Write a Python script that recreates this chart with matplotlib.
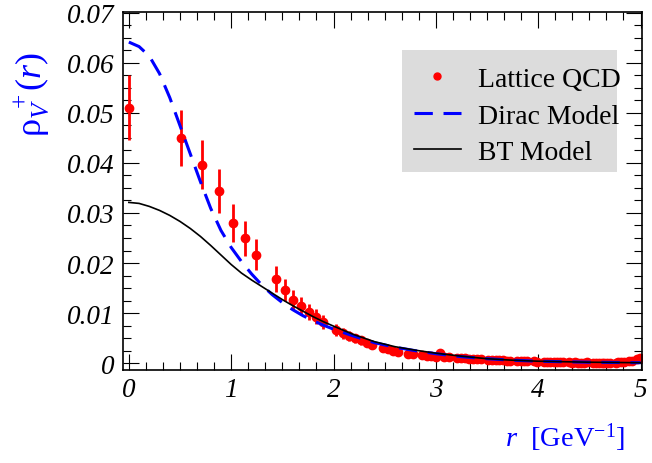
import matplotlib
matplotlib.use("Agg")
import matplotlib.pyplot as plt
from matplotlib.lines import Line2D
from matplotlib.patches import Rectangle
from matplotlib.ticker import MultipleLocator, FixedLocator

plt.rcParams['font.family'] = 'serif'
plt.rcParams['font.serif'] = ['Liberation Serif', 'DejaVu Serif']
plt.rcParams['mathtext.fontset'] = 'custom'
plt.rcParams['mathtext.rm'] = 'Liberation Serif'
plt.rcParams['mathtext.it'] = 'Liberation Serif:italic'

# lattice QCD points (r in GeV^-1)
r_lat = [0.000, 0.507, 0.717, 0.878, 1.014, 1.134, 1.242, 1.434, 1.521, 1.603,
         1.682, 1.756, 1.828, 1.897, 2.028, 2.090, 2.151, 2.210, 2.267, 2.323,
         2.378, 2.484, 2.535, 2.585, 2.634, 2.730, 2.777, 2.868, 2.913, 2.956,
         2.999, 3.042, 3.084, 3.125, 3.207, 3.246, 3.286, 3.325, 3.363, 3.401,
         3.439, 3.513, 3.549, 3.585, 3.621, 3.656, 3.691, 3.726, 3.794, 3.828,
         3.861, 3.894, 3.960, 3.992, 4.056, 4.088, 4.119, 4.150, 4.181, 4.211,
         4.242, 4.302, 4.332, 4.361, 4.391, 4.420, 4.449, 4.478, 4.535, 4.563,
         4.591, 4.619, 4.647, 4.674, 4.702, 4.756, 4.783, 4.810, 4.837, 4.889,
         4.916, 4.968, 4.993]
rho_lat = [0.0510, 0.0450, 0.0396, 0.0343, 0.0280, 0.0249, 0.0217, 0.0168, 0.0146, 0.0127,
           0.0115, 0.0103, 0.0093, 0.0083, 0.0067, 0.0060, 0.0055, 0.0050, 0.0046, 0.0041,
           0.0037, 0.0030, 0.0028, 0.0025, 0.0023, 0.0019, 0.0018, 0.0016, 0.0015, 0.0014,
           0.0013, 0.0021, 0.0013, 0.0012, 0.0011, 0.0010, 0.0010, 0.0009, 0.0009, 0.0008,
           0.0008, 0.0007, 0.0007, 0.0006, 0.0006, 0.0006, 0.0005, 0.0005, 0.0005, 0.0004,
           0.0005, 0.0004, 0.0004, 0.0003, 0.0003, 0.0003, 0.0002, 0.0003, 0.0002, 0.0002,
           0.0002, 0.0002, 0.0001, 0.0002, 0.0001, 0.0001, 0.0001, 0.0002, 0.0001, 0.0001,
           0.0000, 0.0001, 0.0001, 0.0000, 0.0001, 0.0001, 0.0002, 0.0002, 0.0003, 0.0004,
           0.0005, 0.0008, 0.0010]
err_lat = [0.0065, 0.0056, 0.0049, 0.0044, 0.0038, 0.0034, 0.0030, 0.0026, 0.0022, 0.0020,
           0.0018, 0.0016, 0.0015, 0.0014, 0.0012, 0.0011, 0.0010, 0.0009, 0.0009, 0.0008,
           0.0008, 0.0007, 0.0006, 0.0006, 0.0006, 0.0005, 0.0005, 0.0005, 0.0005, 0.0005,
           0.0004, 0.0004, 0.0004, 0.0004, 0.0004, 0.0004, 0.0004, 0.0004, 0.0004, 0.0004,
           0.0004, 0.0004, 0.0004, 0.0004, 0.0004, 0.0004, 0.0004, 0.0004, 0.0004, 0.0004,
           0.0004, 0.0004, 0.0004, 0.0004, 0.0003, 0.0003, 0.0003, 0.0003, 0.0003, 0.0003,
           0.0003, 0.0003, 0.0003, 0.0003, 0.0003, 0.0003, 0.0003, 0.0003, 0.0003, 0.0003,
           0.0003, 0.0003, 0.0003, 0.0003, 0.0003, 0.0003, 0.0003, 0.0003, 0.0003, 0.0003,
           0.0003, 0.0003, 0.0003]

# model curves
r_dirac = [0.0, 0.1, 0.2, 0.3, 0.4, 0.5, 0.6, 0.7, 0.8, 0.9, 1.0, 1.1, 1.2, 1.3, 1.4,
           1.5, 1.6, 1.7, 1.8, 1.9, 2.0, 2.2, 2.4, 2.6, 2.8, 3.0, 3.25, 3.5, 3.75, 4.0,
           4.5, 5.0]
rho_dirac = [0.0641, 0.0632, 0.0613, 0.0578, 0.0530, 0.0474, 0.0418, 0.0362, 0.0309,
             0.0265, 0.0231, 0.0203, 0.0178, 0.0156, 0.0137, 0.0121, 0.0107, 0.0095,
             0.0085, 0.0076, 0.0068, 0.0054, 0.0041, 0.0032, 0.0025, 0.0019, 0.0013,
             0.0009, 0.0006, 0.0004, 0.0002, 0.0001]

r_bt = [0.0, 0.1, 0.2, 0.3, 0.4, 0.5, 0.6, 0.7, 0.8, 0.9, 1.0, 1.1, 1.2, 1.3, 1.4,
        1.5, 1.6, 1.7, 1.8, 1.9, 2.0, 2.2, 2.4, 2.6, 2.8, 3.0, 3.25, 3.5, 3.75, 4.0,
        4.5, 5.0]
rho_bt = [0.0321, 0.0319, 0.0313, 0.0305, 0.0295, 0.0283, 0.0269, 0.0253, 0.0235,
          0.0216, 0.0197, 0.0180, 0.0166, 0.0153, 0.0140, 0.0127, 0.0115, 0.0104,
          0.0093, 0.0083, 0.0074, 0.0057, 0.0043, 0.0033, 0.0026, 0.0020, 0.0014,
          0.0009, 0.0006, 0.0004, 0.0002, 0.0001]

yticks = [0.0, 0.01, 0.02, 0.03, 0.04, 0.05, 0.06, 0.07]
ytick_labels = ['0', '0.01', '0.02', '0.03', '0.04', '0.05', '0.06', '0.07']

fig = plt.figure(figsize=(6.52, 4.64), dpi=100)
ax = fig.add_axes([0.189, 0.201, 0.795, 0.772])

ax.errorbar(r_lat, rho_lat, yerr=err_lat, fmt='o', color='red', ms=6,
            elinewidth=2, capsize=0, zorder=2)
ax.plot(r_dirac, rho_dirac, color='blue', lw=2.2, dashes=(6, 3.5), zorder=3)
ax.plot(r_bt, rho_bt, color='black', lw=1.2, zorder=4)

ax.set_xlim(-0.055, 5.01)
ax.set_ylim(-0.0013, 0.0702)

ax.xaxis.set_major_locator(MultipleLocator(1))
ax.xaxis.set_minor_locator(MultipleLocator(1 / 6))
ax.yaxis.set_major_locator(FixedLocator(yticks))
ax.yaxis.set_minor_locator(MultipleLocator(0.0025))
ax.set_yticklabels(ytick_labels)
ax.set_xticks([0, 1, 2, 3, 4, 5])
ax.set_xticklabels(['0', '1', '2', '3', '4', '5'])

ax.tick_params(which='both', direction='in', top=True, right=True, width=0.8)
ax.tick_params(which='major', length=11.5, labelsize=19.5)
ax.tick_params(which='minor', length=5.8)
ax.tick_params(axis='x', pad=5)
ax.tick_params(axis='y', pad=6)
for lab in ax.get_xticklabels() + ax.get_yticklabels():
    lab.set_style('italic')
for sp in ax.spines.values():
    sp.set_linewidth(1.2)

# grey legend box, ROOT style (text runs up to the right edge)
ax.add_patch(Rectangle((0.538, 0.552), 0.414, 0.341, transform=ax.transAxes,
                       facecolor='#dcdcdc', edgecolor='none', zorder=5))

handles = [Line2D([], [], ls='none', marker='o', ms=5, color='red'),
           Line2D([], [], color='blue', lw=2.2, dashes=(6, 3.5)),
           Line2D([], [], color='black', lw=1.2)]
leg = ax.legend(handles, ['Lattice QCD', 'Dirac Model', 'BT Model'],
                loc='upper left', bbox_to_anchor=(0.538, 0.879), borderaxespad=0,
                fontsize=20, frameon=False, handlelength=1.7,
                handletextpad=0.6, labelspacing=0.4, borderpad=0.42)
leg.set_zorder(6)

fig.text(0.959, 0.056, r'$r$  [GeV$^{-1}$]', color='blue', fontsize=20.5,
         ha='right', va='center')
fig.text(0.048, 0.888, r'$\mathrm{\rho}_V^{\,\,+}(r)$', color='blue', fontsize=26,
         rotation=90, ha='center', va='top')

fig.savefig('out.png', dpi=100)
